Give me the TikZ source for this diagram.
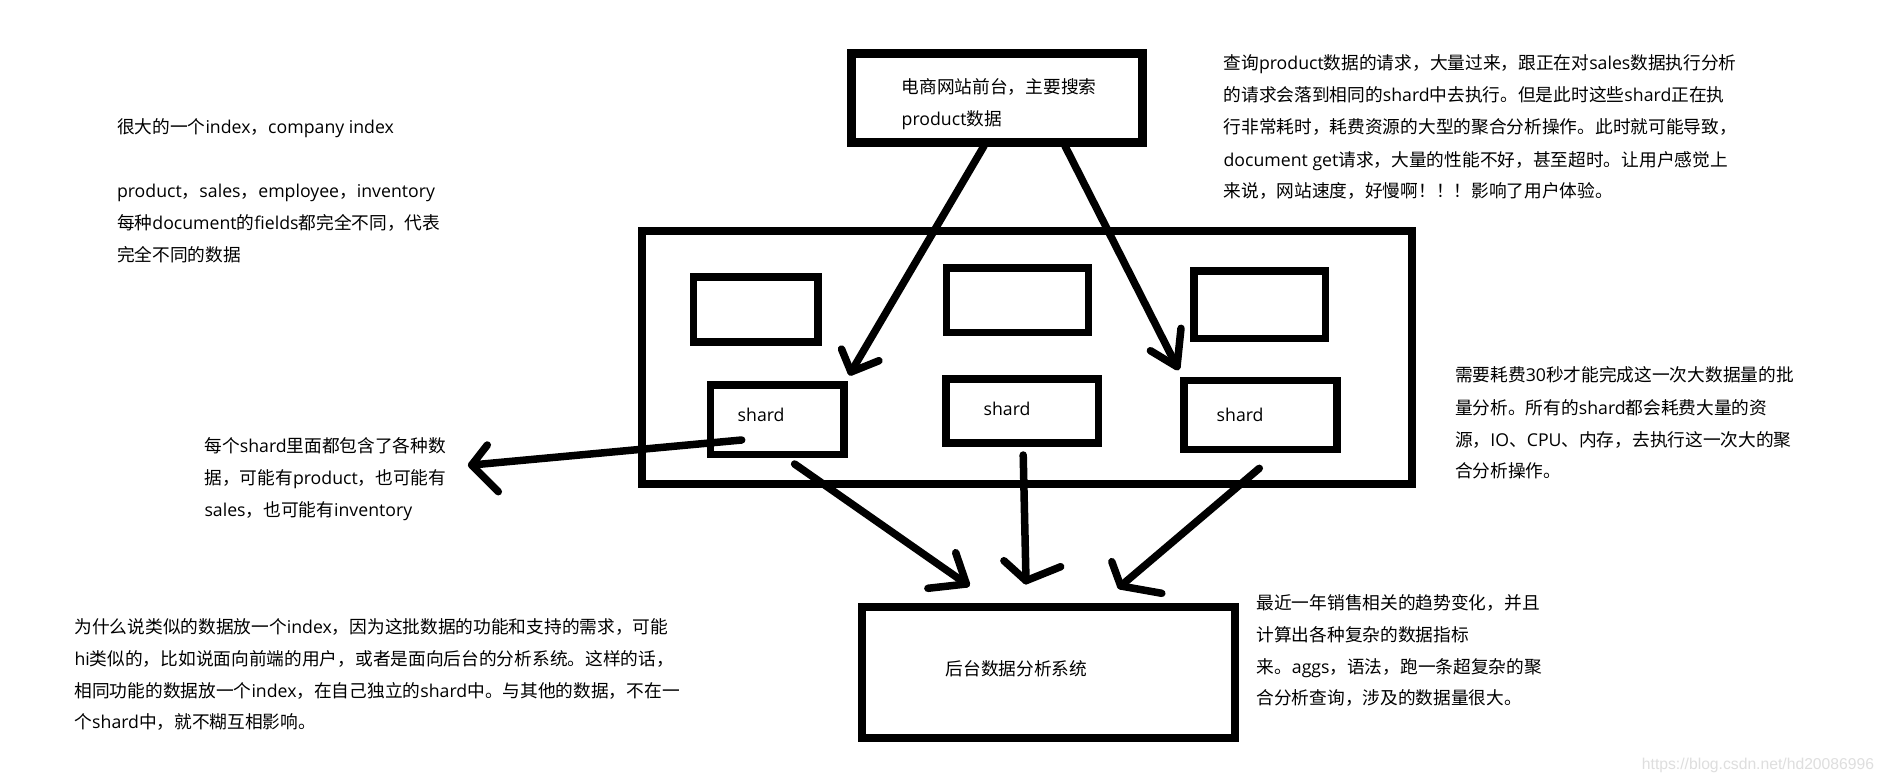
\documentclass[tikz,border=0pt]{standalone}
\usepackage{fontspec}
\newfontfamily\cjk{Noto Sans CJK SC}
\newfontfamily\latf{Open Sans}
\newfontfamily\wmf{Liberation Sans}
\newcommand\en[1]{{\latf #1}}
\begin{document}
\begin{tikzpicture}[x=1pt,y=-1pt,
  box/.style={draw=black, line width=#1, inner sep=0pt, outer sep=0pt},
  box/.default=7.5pt,
  txt/.style={anchor=base west, inner sep=0pt, outer sep=0pt, text=black,
    font=\cjk\fontsize{17.7pt}{20pt}\selectfont},
  arr/.style={draw=black, line width=7.5pt, line cap=round, line join=round}]
\useasboundingbox (0,0) rectangle (1885,782);
\fill[white] (0,0) rectangle (1885,782);

% boxes
\node[box=9pt, minimum width=291pt, minimum height=89.3pt] (front) at (997,98.15) {};
\node[box=8pt, minimum width=770pt, minimum height=253pt] (index) at (1026.7,357.8) {};
\node[box, minimum width=124.6pt, minimum height=64.9pt] (u1) at (755.75,309.5) {};
\node[box, minimum width=141.7pt, minimum height=64.5pt] (u2) at (1017.4,300) {};
\node[box, minimum width=131.5pt, minimum height=67.5pt] (u3) at (1259.5,304.5) {};
\node[box, minimum width=133.9pt, minimum height=69.5pt] (s1) at (777.2,419.5) {};
\node[box, minimum width=152.5pt, minimum height=64.2pt] (s2) at (1022,410.85) {};
\node[box, minimum width=153.2pt, minimum height=68.8pt] (s3) at (1260.35,414.85) {};
\node[box=8pt, minimum width=372.4pt, minimum height=130.7pt] (back) at (1048.4,672.35) {};

% box texts
\node[txt] (ft1) at (901.7,93.4) {电商网站前台，主要搜索};
\node[txt] (ft2) at (901.7,125.7) {\en{product}数据};
\node[txt] (bt) at (945.7,675) {后台数据分析系统};
\node[txt] (st1) at (737.7,421.4) {\en{shard}};
\node[txt] (st2) at (983.6,415) {\en{shard}};
\node[txt] (st3) at (1216.7,421.4) {\en{shard}};

% arrow coordinates
\coordinate (a1s) at (984,146);   \coordinate (a1t) at (851,372);
\coordinate (a1b) at (841.5,349); \coordinate (a1c) at (879,360.7);
\coordinate (a2s) at (1065,146);  \coordinate (a2t) at (1177,366.7);
\coordinate (a2b) at (1181,328.3);\coordinate (a2c) at (1150.4,350.7);
\coordinate (a3s) at (741.7,440); \coordinate (a3t) at (471.7,465);
\coordinate (a3b) at (487.3,445); \coordinate (a3c) at (498.3,491.7);
\coordinate (a4s) at (794.6,464); \coordinate (a4t) at (966.4,584);
\coordinate (a4b) at (955.7,552.7);\coordinate (a4c) at (927.9,588.3);
\coordinate (a5s) at (1023.2,455);\coordinate (a5t) at (1026,580.7);
\coordinate (a5b) at (1003.9,560.7);\coordinate (a5c) at (1060.7,566.7);
\coordinate (a6s) at (1259.3,468.3);\coordinate (a6t) at (1120.7,586);
\coordinate (a6b) at (1111.8,561.7);\coordinate (a6c) at (1161.8,593.3);

\foreach \i in {1,...,6}{
  \draw[arr] (a\i s) -- (a\i t);
  \draw[arr] (a\i b) -- (a\i t) -- (a\i c);
}

% left top text
\node[txt] (lt1) at (117,133) {很大的一个\en{index}，\en{company index}};
\node[txt] (lt2) at (117,197.2) {\en{product}，\en{sales}，\en{employee}，\en{inventory}};
\node[txt] (lt3) at (117,229.1) {每种\en{document}的\en{fields}都完全不同，代表};
\node[txt] (lt4) at (117,261.1) {完全不同的数据};

% right top text
\node[txt] (rt1) at (1223.6,69) {查询\en{product}数据的请求，大量过来，跟正在对\en{sales}数据执行分析};
\node[txt] (rt2) at (1223.6,101.5) {的请求会落到相同的\en{shard}中去执行。但是此时这些\en{shard}正在执};
\node[txt] (rt3) at (1223.6,133.9) {行非常耗时，耗费资源的大型的聚合分析操作。此时就可能导致，};
\node[txt] (rt4) at (1223.6,166.3) {\en{document get}请求，大量的性能不好，甚至超时。让用户感觉上};
\node[txt] (rt5) at (1223.6,197.7) {来说，网站速度，好慢啊！！！影响了用户体验。};

% right middle text
\node[txt] (rm1) at (1455,381.7) {需要耗费\en{30}秒才能完成这一次大数据量的批};
\node[txt] (rm2) at (1455,414.7) {量分析。所有的\en{shard}都会耗费大量的资};
\node[txt] (rm3) at (1455,446.7) {源，\en{IO}、\en{CPU}、内存，去执行这一次大的聚};
\node[txt] (rm4) at (1455,477.7) {合分析操作。};

% left middle text
\node[txt] (lm1) at (204.5,452.7) {每个\en{shard}里面都包含了各种数};
\node[txt] (lm2) at (204.5,484.7) {据，可能有\en{product}，也可能有};
\node[txt] (lm3) at (204.5,516.7) {\en{sales}，也可能有\en{inventory}};

% bottom left text
\node[txt] (bl1) at (74.5,633.7) {为什么说类似的数据放一个\en{index}，因为这批数据的功能和支持的需求，可能};
\node[txt] (bl2) at (74.5,665.4) {\en{hi}类似的，比如说面向前端的用户，或者是面向后台的分析系统。这样的话，};
\node[txt] (bl3) at (74.5,697.5) {相同功能的数据放一个\en{index}，在自己独立的\en{shard}中。与其他的数据，不在一};
\node[txt] (bl4) at (74.5,728.7) {个\en{shard}中，就不糊互相影响。};

% bottom right text
\node[txt] (br1) at (1256.5,609.4) {最近一年销售相关的趋势变化，并且};
\node[txt] (br2) at (1256.5,641.2) {计算出各种复杂的数据指标};
\node[txt] (br3) at (1256.5,673) {来。\en{aggs}，语法，跑一条超复杂的聚};
\node[txt] (br4) at (1256.5,704.5) {合分析查询，涉及的数据量很大。};

% watermark
\node[anchor=base west, inner sep=0pt, text=black!13, font=\wmf\fontsize{15.7pt}{18pt}\selectfont] (wm) at (1641.7,769) {https://blog.csdn.net/hd20086996};
\end{tikzpicture}
\end{document}
